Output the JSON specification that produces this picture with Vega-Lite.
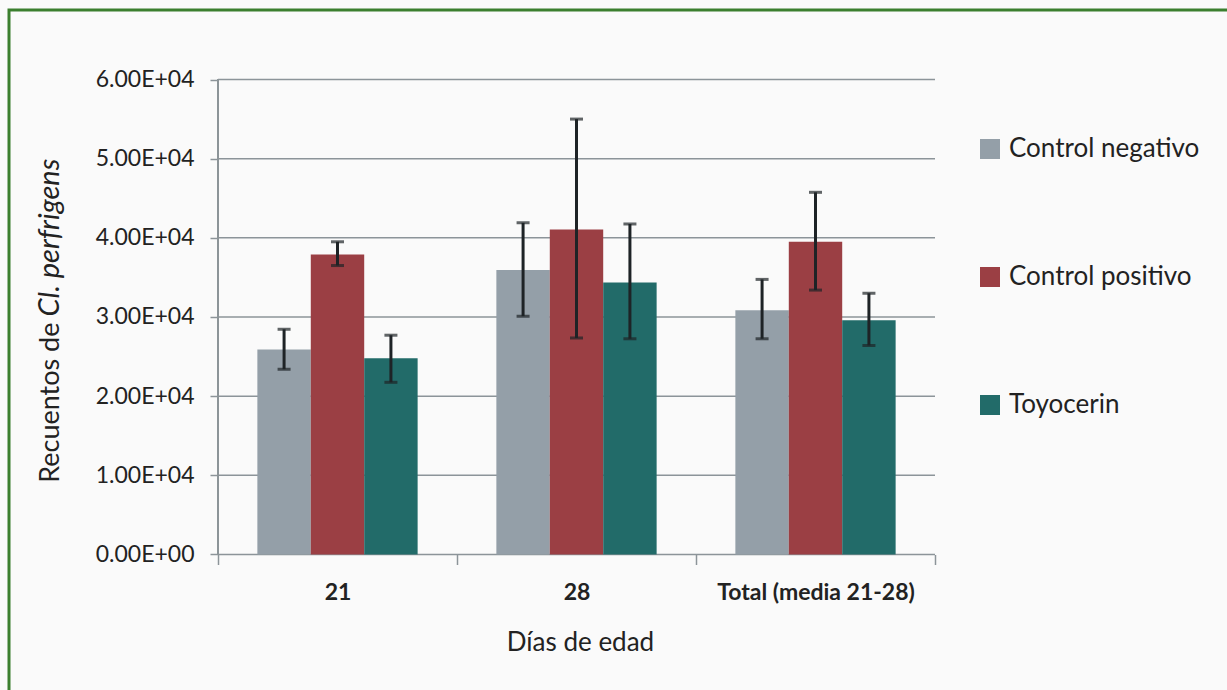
{
  "$schema": "https://vega.github.io/schema/vega-lite/v6.json",
  "width": 1221,
  "height": 683,
  "autosize": "none",
  "padding": {"left": 9, "top": 10, "right": -3, "bottom": -3},
  "background": "#fafafa",
  "config": {
    "font": "Lato",
    "view": {"stroke": "#3b7f2e", "strokeWidth": 3, "fill": "#fafafa"},
    "axis": {"labelFont": "Lato", "titleFont": "Lato", "labelColor": "#222222", "titleColor": "#222222"},
    "legend": {"labelFont": "Lato"}
  },
  "datasets": {
    "bars": [
      {"dia": "21", "grupo": "Control  negativo", "valor": 25900, "lo": 23400, "hi": 28450},
      {"dia": "21", "grupo": "Control positivo", "valor": 37900, "lo": 36500, "hi": 39500},
      {"dia": "21", "grupo": "Toyocerin", "valor": 24800, "lo": 21750, "hi": 27700},
      {"dia": "28", "grupo": "Control  negativo", "valor": 35950, "lo": 30100, "hi": 41900},
      {"dia": "28", "grupo": "Control positivo", "valor": 41050, "lo": 27350, "hi": 55000},
      {"dia": "28", "grupo": "Toyocerin", "valor": 34350, "lo": 27250, "hi": 41750},
      {"dia": "Total (media 21-28)", "grupo": "Control  negativo", "valor": 30850, "lo": 27250, "hi": 34750},
      {"dia": "Total (media 21-28)", "grupo": "Control positivo", "valor": 39500, "lo": 33400, "hi": 45750},
      {"dia": "Total (media 21-28)", "grupo": "Toyocerin", "valor": 29600, "lo": 26400, "hi": 33000}
    ],
    "grid": [{"v": 0}, {"v": 10000}, {"v": 20000}, {"v": 30000}, {"v": 40000}, {"v": 50000}, {"v": 60000}]
  },
  "resolve": {"axis": {"y": "independent"}},
  "layer": [
    {
      "data": {"name": "grid"},
      "mark": {"type": "rule", "color": "#8c9499", "strokeWidth": 1.5},
      "encoding": {
        "x": {"datum": "21", "type": "nominal", "bandPosition": 0,
              "scale": {"type": "band", "domain": ["21", "28", "Total (media 21-28)"], "range": [209, 926], "paddingInner": 0, "paddingOuter": 0}},
        "x2": {"datum": "Total (media 21-28)", "bandPosition": 1},
        "y": {"field": "v", "type": "quantitative", "axis": null,
              "scale": {"domain": [-17495, 68779], "nice": false, "zero": false}}
      }
    },
    {
      "data": {"name": "grid"},
      "mark": {"type": "rule", "color": "#8c9499", "strokeWidth": 1.5},
      "encoding": {
        "x": {"datum": "21", "type": "nominal", "bandPosition": 0,
              "scale": {"type": "band", "domain": ["21", "28", "Total (media 21-28)"], "range": [209, 926], "paddingInner": 0, "paddingOuter": 0}},
        "y": {"datum": 0, "type": "quantitative", "axis": null,
              "scale": {"domain": [-17495, 68779], "nice": false, "zero": false}},
        "y2": {"datum": 60000}
      }
    },
    {
      "data": {"name": "bars"},
      "mark": {"type": "bar"},
      "encoding": {
        "x": {
          "field": "dia", "type": "nominal", "sort": null,
          "scale": {"type": "band", "domain": ["21", "28", "Total (media 21-28)"], "range": [209, 926], "paddingInner": 0, "paddingOuter": 0},
          "axis": {
            "title": "Días de edad", "tickBand": "extent", "domain": false, "grid": false,
            "ticks": true, "tickSize": 10, "tickColor": "#8c9499", "tickWidth": 1.5,
            "labelAngle": 0, "labelAlign": "center", "labelFontWeight": "bold", "labelFontSize": 23, "labelPadding": 34.5,
            "labelBaseline": "alphabetic", "labelLimit": 400, "offset": -138.5,
            "titleX": 571, "titleY": 96, "titleBaseline": "alphabetic", "titleAlign": "center",
            "titleFontSize": 26, "titleFontWeight": "normal"
          }
        },
        "xOffset": {
          "field": "grupo", "type": "nominal",
          "scale": {"domain": ["Control  negativo", "Control positivo", "Toyocerin"], "paddingInner": 0, "paddingOuter": 0.737}
        },
        "y": {
          "field": "valor", "type": "quantitative",
          "scale": {"domain": [-17495, 68779], "nice": false, "zero": false},
          "axis": {
            "orient": "left", "offset": -209, "values": [0, 10000, 20000, 30000, 40000, 50000, 60000],
            "labelExpr": "datum.value == 0 ? '0.00E+00' : format(datum.value / 10000, '.2f') + 'E+04'",
            "domain": false, "grid": false, "ticks": true, "tickSize": 8, "tickColor": "#8c9499", "tickWidth": 1.5,
            "labelFontSize": 23, "labelPadding": 16,
            "title": "Recuentos de", "titleX": -160, "titleY": 312, "titleAngle": -90,
            "titleAlign": "right", "titleBaseline": "alphabetic", "titleFontSize": 27, "titleFontWeight": "normal"
          }
        },
        "y2": {"datum": 0},
        "color": {
          "field": "grupo", "type": "nominal",
          "scale": {"domain": ["Control  negativo", "Control positivo", "Toyocerin"], "range": ["#949fa8", "#9b3f44", "#226b69"]},
          "legend": {
            "orient": "none", "legendX": 968, "legendY": 126, "title": null,
            "symbolType": "square", "symbolSize": 400, "symbolStrokeWidth": 0,
            "labelFontSize": 26, "labelOffset": 6, "rowPadding": 102, "padding": 0, "labelColor": "#222222",
            "labelLimit": 400
          }
        }
      }
    },
    {
      "data": {"name": "bars"},
      "mark": {"type": "rule", "color": "#1e2326", "strokeWidth": 3},
      "encoding": {
        "x": {"field": "dia", "type": "nominal", "sort": null,
              "scale": {"type": "band", "domain": ["21", "28", "Total (media 21-28)"], "range": [209, 926], "paddingInner": 0, "paddingOuter": 0}},
        "xOffset": {"field": "grupo", "type": "nominal",
                    "scale": {"domain": ["Control  negativo", "Control positivo", "Toyocerin"], "paddingInner": 0, "paddingOuter": 0.737}},
        "y": {"field": "lo", "type": "quantitative", "axis": null,
              "scale": {"domain": [-17495, 68779], "nice": false, "zero": false}},
        "y2": {"field": "hi"}
      }
    },
    {
      "data": {"name": "bars"},
      "mark": {"type": "tick", "color": "#1e2326", "thickness": 3, "size": 13},
      "encoding": {
        "x": {"field": "dia", "type": "nominal", "sort": null,
              "scale": {"type": "band", "domain": ["21", "28", "Total (media 21-28)"], "range": [209, 926], "paddingInner": 0, "paddingOuter": 0}},
        "xOffset": {"field": "grupo", "type": "nominal",
                    "scale": {"domain": ["Control  negativo", "Control positivo", "Toyocerin"], "paddingInner": 0, "paddingOuter": 0.737}},
        "y": {"field": "lo", "type": "quantitative", "axis": null,
              "scale": {"domain": [-17495, 68779], "nice": false, "zero": false}}
      }
    },
    {
      "data": {"name": "bars"},
      "mark": {"type": "tick", "color": "#1e2326", "thickness": 3, "size": 13},
      "encoding": {
        "x": {"field": "dia", "type": "nominal", "sort": null,
              "scale": {"type": "band", "domain": ["21", "28", "Total (media 21-28)"], "range": [209, 926], "paddingInner": 0, "paddingOuter": 0}},
        "xOffset": {"field": "grupo", "type": "nominal",
                    "scale": {"domain": ["Control  negativo", "Control positivo", "Toyocerin"], "paddingInner": 0, "paddingOuter": 0.737}},
        "y": {"field": "hi", "type": "quantitative",
              "scale": {"domain": [-17495, 68779], "nice": false, "zero": false},
              "axis": {
                "orient": "left", "offset": -209, "labels": false, "ticks": false, "domain": false, "grid": false,
                "title": "Cl. perfrigens", "titleX": -160, "titleY": 306, "titleAngle": -90,
                "titleAlign": "left", "titleBaseline": "alphabetic", "titleFontSize": 29,
                "titleFontWeight": "normal", "titleFontStyle": "italic"
              }}
      }
    }
  ]
}
